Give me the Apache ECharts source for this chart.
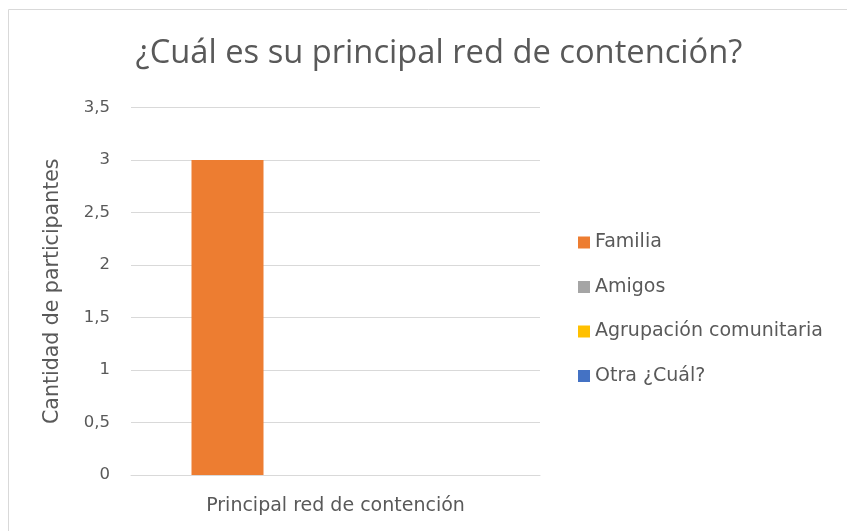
<!DOCTYPE html>
<html>
<head>
<meta charset="utf-8">
<script src="https://cdn.jsdelivr.net/npm/echarts@6/dist/echarts.min.js"></script>
<style>
  html, body { margin: 0; padding: 0; background: #fff; }
  #chart { width: 847px; height: 531px; }
</style>
</head>
<body>
<div id="chart"></div>
<script>
const categories = ['Principal red de contención'];
const seriesNames = ['Familia', 'Amigos', 'Agrupación comunitaria', 'Otra ¿Cuál?'];
const seriesValues = [[3], [0], [0], [0]];
const colors = ['#ED7D31', '#A5A5A5', '#FFC000', '#4472C4'];

const chart = echarts.init(document.getElementById('chart'));
const titleFont = '"Open Sans", "Noto Sans", sans-serif';
const font = '"DejaVu Sans", sans-serif';

chart.setOption({
    color: colors,
    textStyle: { fontFamily: font },
    graphic: [{
        type: 'rect',
        shape: { x: 8.5, y: 9.5, width: 900, height: 600 },
        style: { fill: 'none', stroke: '#d9d9d9', lineWidth: 1 },
        silent: true
    }],
    title: {
        text: '¿Cuál es su principal red de contención?',
        left: 434, top: 32,
        textAlign: 'center',
        textStyle: { fontFamily: titleFont, fontSize: 32.7, fontWeight: 'normal', color: '#595959' }
    },
    legend: {
        data: seriesNames,
        orient: 'vertical',
        left: 573, top: 228,
        itemGap: 25.5,
        itemWidth: 12, itemHeight: 12,
        icon: 'rect',
        textStyle: { fontFamily: font, fontSize: 19, color: '#595959' }
    },
    grid: { left: 131, right: 307, top: 107.5, bottom: 56 },
    xAxis: {
        type: 'category',
        data: categories,
        axisLine: { show: true, lineStyle: { color: '#d9d9d9' } },
        axisTick: { show: false },
        axisLabel: { fontFamily: font, fontSize: 19, color: '#595959', margin: 22 }
    },
    yAxis: {
        type: 'value',
        min: 0, max: 3.5, interval: 0.5,
        name: 'Cantidad de participantes',
        nameLocation: 'middle',
        nameGap: 68,
        nameTextStyle: { fontFamily: font, fontSize: 20.5, color: '#595959' },
        axisLine: { show: false },
        axisTick: { show: false },
        axisLabel: {
            fontFamily: font, fontSize: 16.5, color: '#595959', margin: 21,
            formatter: v => String(v).replace('.', ',')
        },
        splitLine: { lineStyle: { color: '#d9d9d9' } }
    },
    series: seriesNames.map((name, i) => ({
        name: name,
        type: 'bar',
        data: seriesValues[i],
        barWidth: 72,
        barGap: '0%'
    }))
});
</script>
</body>
</html>
